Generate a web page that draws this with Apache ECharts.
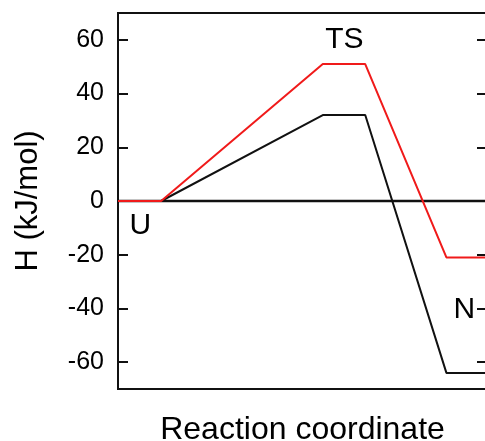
<!DOCTYPE html>
<html>
<head>
<meta charset="utf-8">
<script src="https://cdn.jsdelivr.net/npm/echarts@6/dist/echarts.min.js"></script>
<style>
  html, body { margin: 0; padding: 0; background: #fff; }
  #chart { width: 485px; height: 441px; }
</style>
</head>
<body>
<div id="chart"></div>
<script>
// reaction coordinate (arbitrary units, 0..100) and enthalpy levels
const xPoints = [0, 11.7, 55.5, 67, 89, 100]
const redH = [0, 0, 51, 51, -21, -21]
const blackH = [0, 0, 32, 32, -64, -64]
const zeroLine = [[0, 0], [100, 0]]
const yTicks = [-60, -40, -20, 0, 20, 40, 60]

// state labels placed in data coordinates
const stateNames = ['U', 'TS', 'N']
const stateX = [6.2, 61.5, 94]
const stateY = [-9.3, 60, -40.7]

const font = 'Liberation Sans, Arial, Helvetica, sans-serif'

const chart = echarts.init(document.getElementById('chart'))

chart.setOption({
  animation: false,
  grid: {
    left: 118,
    top: 13,
    right: -2,
    bottom: 52,
    outerBoundsMode: 'none',
    containLabel: false,
    show: true,
    borderColor: '#111',
    borderWidth: 2
  },
  xAxis: {
    type: 'value',
    min: 0,
    max: 100,
    axisLine: { show: false },
    axisTick: { show: false },
    axisLabel: { show: false },
    splitLine: { show: false },
    name: 'Reaction coordinate',
    nameLocation: 'middle',
    nameGap: 25,
    nameTextStyle: { fontSize: 32, color: '#000', fontFamily: font }
  },
  yAxis: [
    {
      type: 'value',
      min: -70,
      max: 70,
      axisLine: { show: true, lineStyle: { color: '#111', width: 2 } },
      axisTick: {
        show: true,
        inside: true,
        length: 10,
        customValues: yTicks,
        lineStyle: { color: '#111', width: 2 }
      },
      axisLabel: {
        customValues: yTicks,
        margin: 14,
        fontSize: 25,
        color: '#000',
        fontFamily: font
      },
      splitLine: { show: false },
      name: 'H (kJ/mol)',
      nameLocation: 'middle',
      nameGap: 74,
      nameTextStyle: { fontSize: 31, color: '#000', fontFamily: font }
    },
    {
      type: 'value',
      position: 'right',
      min: -70,
      max: 70,
      axisLine: { show: true, lineStyle: { color: '#111', width: 2 } },
      axisTick: {
        show: true,
        inside: true,
        length: 10,
        customValues: yTicks,
        lineStyle: { color: '#111', width: 2 }
      },
      axisLabel: { show: false },
      splitLine: { show: false }
    }
  ],
  series: [
    {
      type: 'line',
      data: zeroLine,
      symbol: 'none',
      lineStyle: { color: '#111', width: 2.5 },
      z: 1
    },
    {
      type: 'line',
      data: xPoints.map((x, i) => [x, blackH[i]]),
      symbol: 'none',
      lineStyle: { color: '#111', width: 2 },
      z: 2
    },
    {
      type: 'line',
      data: xPoints.map((x, i) => [x, redH[i]]),
      symbol: 'none',
      lineStyle: { color: '#f01a1a', width: 2 },
      z: 3
    },
    {
      type: 'scatter',
      symbolSize: 1,
      itemStyle: { opacity: 0 },
      data: stateNames.map((n, i) => ({ name: n, value: [stateX[i], stateY[i]] })),
      label: {
        show: true,
        position: [0, 0],
        align: 'center',
        verticalAlign: 'middle',
        formatter: p => p.name,
        fontSize: 30,
        color: '#000',
        opacity: 1,
        fontFamily: font
      },
      z: 4
    }
  ]
})
</script>
</body>
</html>
